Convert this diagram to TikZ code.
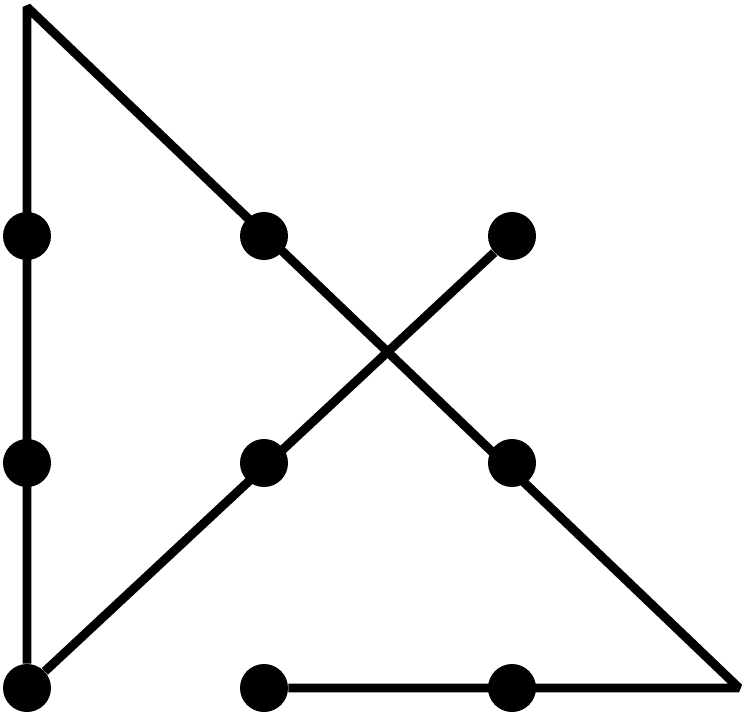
\documentclass[tikz,border=0pt]{standalone}
\begin{document}
\begin{tikzpicture}[x=0.02cm,y=0.02cm]
		\useasboundingbox (0,0) rectangle (746,714);
		\begin{scope}[every node/.style={circle,fill=black,
			inner sep=0pt, minimum size=0.96cm}]
		\node (A) at (27,478) {};
		\node (B) at (264,478) {};
		\node (C) at (512,478) {};
		\node (D) at (27,251) {};
		\node (E) at (264,251) {};
		\node (F) at (512,251) {};
		\node (G) at (27,26) {};
		\node (H) at (264,26) {};
		\node (I) at (512,26) {};
		\end{scope}
		\coordinate (T) at (27,707);
		\coordinate (R) at (739,26);
		
		\draw[line width=5.1pt, line join=bevel] (H) -- (R) -- (T) -- (G) -- (C);
		\end{tikzpicture}
\end{document}
